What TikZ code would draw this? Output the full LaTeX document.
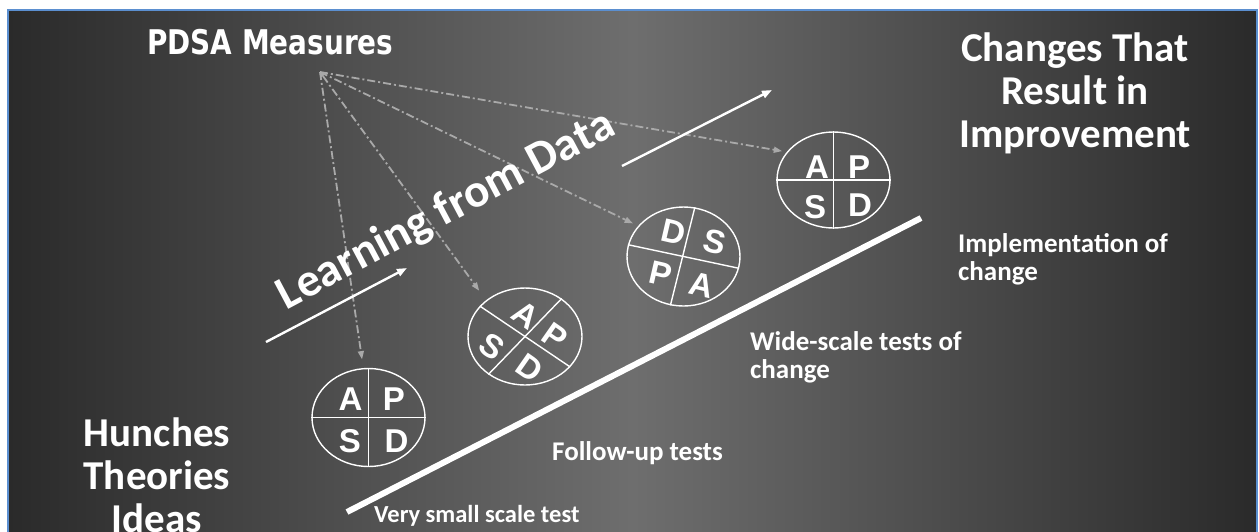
\documentclass[tikz,border=0pt]{standalone}
\usepackage{fontspec}
\usepackage{graphicx}
\setmainfont{Carlito}
\newfontfamily\headfont{DejaVu Sans}
\newfontfamily\letterfont{Liberation Sans}
\usetikzlibrary{arrows.meta,shapes.geometric}

\definecolor{bgdark}{HTML}{2A2A2A}
\definecolor{bglight}{HTML}{6E6E6E}
\definecolor{frameblue}{HTML}{5B8FD0}
\definecolor{measuregray}{HTML}{A9A9A9}

\begin{document}
\begin{tikzpicture}[x=1pt,y=-1pt,
  stagelabel/.style={text=white,font=\bfseries\fontsize{27}{30}\selectfont,inner sep=0pt,anchor=base west},
  biglabel/.style={text=white,font=\bfseries\fontsize{41}{43}\selectfont,inner sep=0pt,anchor=base},
  quad/.style={text=white,font=\letterfont\bfseries\fontsize{33}{35}\selectfont,inner sep=0pt},
  pdsaring/.style={draw=white,line width=1.4pt,ellipse,inner sep=0pt,minimum width=113pt,minimum height=98pt},
  divider/.style={draw=white,line width=1.4pt},
  measure/.style={draw=measuregray,line width=1.8pt,dash pattern=on 8pt off 3pt on 2pt off 3pt,
    -{Triangle[length=8pt,width=6.5pt,fill=measuregray,line width=0pt]}},
  trend/.style={draw=white,line width=2.4pt,-{Triangle[length=10pt,width=7.5pt]}}
]
\useasboundingbox (0,0) rectangle (1259,531);

% page and framed slide background
\fill[white] (0,0) rectangle (1259,531);
\shade[left color=bgdark,right color=bgdark,middle color=bglight] (8,10) rectangle (1257,531);
\draw[frameblue,line width=2pt] (8,540) -- (8,10) -- (1257,10) -- (1257,540);

% headings
\node[anchor=base west,text=white,inner sep=0pt,font=\headfont\bfseries\fontsize{34}{36}\selectfont]
  (pdsa) at (147,54) {\scalebox{0.82}[1]{PDSA Measures}};
\node[biglabel] (chg1) at (1075,61) {Changes That};
\node[biglabel] (chg2) at (1075,104) {Result in};
\node[biglabel] (chg3) at (1075,147) {Improvement};
\node[biglabel] (hun1) at (157,446) {Hunches};
\node[biglabel] (hun2) at (157,489) {Theories};
\node[biglabel] (hun3) at (157,532) {Ideas};

% rising baseline of the ramp
\coordinate (ramp0) at (347,512);
\coordinate (ramp1) at (921,218);
\draw[white,line width=6pt] (ramp0) -- (ramp1);

% stage labels
\node[stagelabel,font=\bfseries\fontsize{24.5}{27}\selectfont] (st1) at (374,522) {Very small scale test};
\node[stagelabel] (st2) at (552,460) {Follow-up tests};
\node[stagelabel] (st3a) at (750,350) {Wide-scale tests of};
\node[stagelabel] (st3b) at (750,378) {change};
\node[stagelabel] (st4a) at (958,252) {Implementation of};
\node[stagelabel] (st4b) at (958,280) {change};

% PDSA cycles (rings first, so the measure lines can aim at them)
\node[pdsaring] (c1) at (368.5,417.5) {};
\node[pdsaring,minimum width=114pt,minimum height=97pt] (c2) at (525,336.5) {};
\node[pdsaring,minimum height=99pt] (c3) at (683.5,256.5) {};
\node[pdsaring,minimum height=96pt] (c4) at (833.5,180) {};

% measures feeding each cycle
\coordinate (apex) at (320,72);
\draw[measure,shorten >=9pt] (apex) -- (c1.96);
\draw[measure,shorten >=12pt,{Triangle[length=5pt,width=5pt,fill=measuregray,line width=0pt]}-{Triangle[length=8pt,width=6.5pt,fill=measuregray,line width=0pt]}] (apex) -- (c2.137);
\draw[measure,shorten >=6pt] (apex) -- (c3.146);
\draw[measure,shorten >=5pt] (apex) -- (c4.149);

% learning text and trend arrows
\node[rotate=28,anchor=base,text=white,inner sep=0pt,font=\bfseries\fontsize{47}{49}\selectfont]
  (learn) at (452,222) {Learning from Data};
\coordinate (ta0) at (266,342);
\coordinate (ta1) at (407,268);
\coordinate (tb0) at (622,166);
\coordinate (tb1) at (772,90);
\draw[trend] (ta0) -- (ta1);
\draw[trend] (tb0) -- (tb1);

% cycle 1 quadrants
\draw[divider] (c1.north) -- (c1.south);
\draw[divider] (c1.west) -- (c1.east);
\node[quad] (c1a) at (350.5,399) {A};
\node[quad] (c1p) at (394,399) {P};
\node[quad] (c1s) at (350,441) {S};
\node[quad] (c1d) at (396.5,441) {D};

% cycle 2 quadrants
\draw[divider] (c2.146) -- (c2.-34);
\draw[divider] (c2.46) -- (c2.226);
\node[quad,rotate=-35] (c2a) at (525.5,315) {A};
\node[quad,rotate=-35] (c2p) at (555,336.5) {P};
\node[quad,rotate=-35] (c2s) at (492,346.5) {S};
\node[quad,rotate=-35] (c2d) at (530,368) {D};

% cycle 3 quadrants
\draw[divider] (c3.168) -- (c3.-12);
\draw[divider] (c3.77) -- (c3.255);
\node[quad,rotate=-13] (c3d) at (674,232) {D};
\node[quad,rotate=-13] (c3s) at (715,242) {S};
\node[quad,rotate=-13] (c3p) at (660.5,274) {P};
\node[quad,rotate=-13] (c3a) at (701.5,285) {A};

% cycle 4 quadrants
\draw[divider] (c4.north) -- (c4.south);
\draw[divider] (c4.west) -- (c4.east);
\node[quad] (c4a) at (817,167) {A};
\node[quad] (c4p) at (859,167) {P};
\node[quad] (c4s) at (815,207) {S};
\node[quad] (c4d) at (860,205) {D};
\end{tikzpicture}
\end{document}
